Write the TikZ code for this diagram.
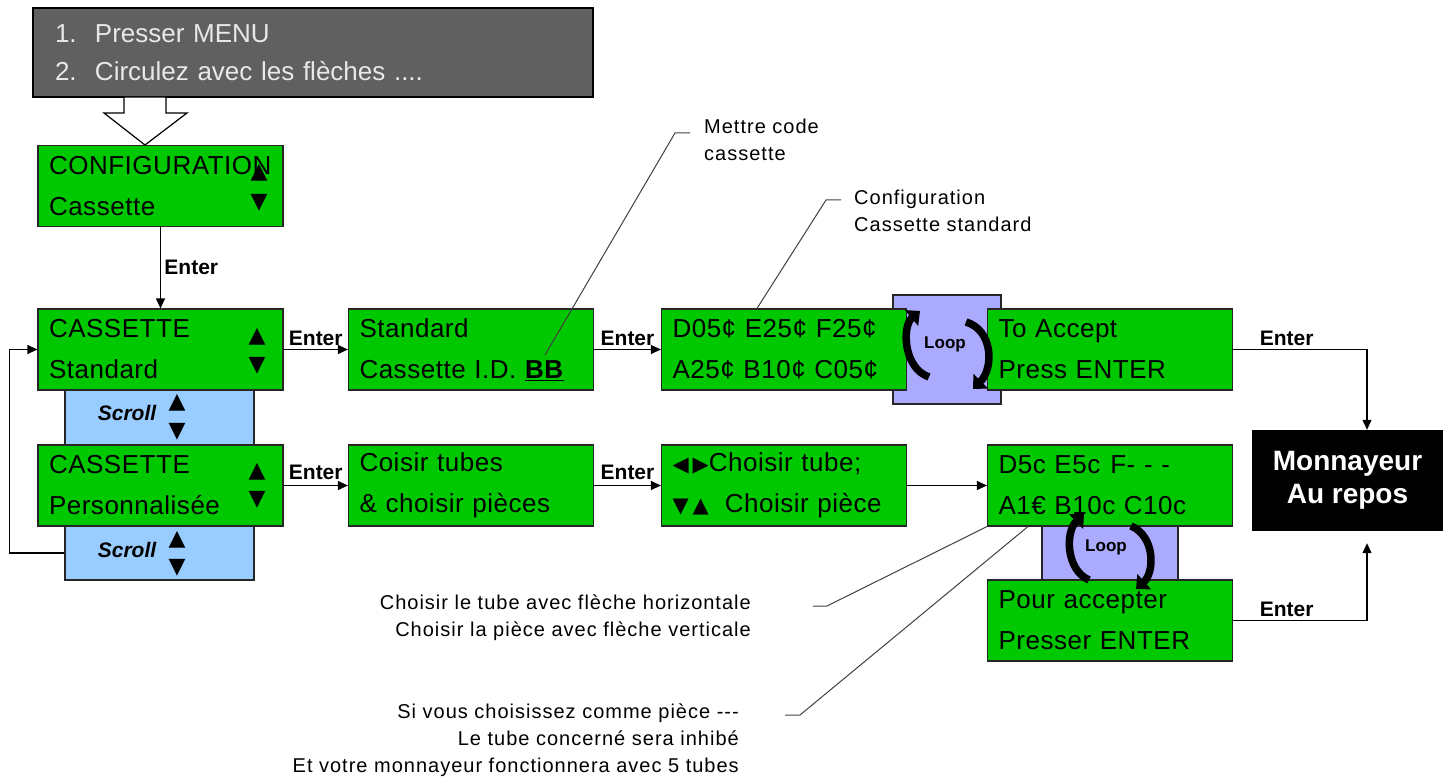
\documentclass[tikz,border=0pt]{standalone}
\usepackage{fontspec}
\setmainfont{Liberation Sans}
\newfontfamily\trifont{DejaVu Sans}
\newfontfamily\lcdfont[LetterSpace=2]{Liberation Sans}
\newfontfamily\notefont[LetterSpace=5]{Liberation Sans}
\usetikzlibrary{arrows.meta}
\definecolor{lcdgreen}{RGB}{0,200,0}
\definecolor{scrollblue}{RGB}{153,204,255}
\definecolor{loopblue}{RGB}{170,170,255}
\definecolor{menugray}{RGB}{96,96,96}
\definecolor{menutext}{RGB}{232,232,232}

\begin{document}
\begin{tikzpicture}[x=1pt,y=-1pt,
    lcd/.style={draw=black!85, line width=1.2pt, fill=lcdgreen, text width=223pt, inner xsep=11pt, inner ysep=0pt, minimum height=81pt, align=left, font=\lcdfont\fontsize{26}{41}\selectfont},
    tri/.style={inner sep=0pt, font=\trifont\fontsize{22}{22}\selectfont},
    scrollbox/.style={draw=black!85, line width=1.2pt, fill=scrollblue, minimum width=189pt},
    loopbox/.style={draw=black!85, line width=1.2pt, fill=loopblue},
    lbl/.style={font=\bfseries\fontsize{21}{21}\selectfont},
    flow/.style={line width=1.2pt, -{Triangle[length=10pt,width=9pt]}},
    callout/.style={line width=1pt, black!75},
    note/.style={inner sep=0pt, font=\notefont\fontsize{20}{27}\selectfont},
    looparrow/.style={line width=7.5pt, -{Triangle[length=11pt,width=20pt]}}]
	\useasboundingbox (0,0) rectangle (1443,778);
	% menu en haut
	\node[draw=black, line width=1.2pt, fill=menugray, text=menutext, minimum width=560pt, minimum height=89pt, text width=516pt, align=left, font=\fontsize{26}{38}\selectfont] (menu) at (313,52.5) {\makebox[40pt][l]{1.}Presser MENU\\\makebox[40pt][l]{2.}Circulez avec les flèches ....};
	\draw[line width=1.2pt, fill=white] (124,97) -- (124,113) -- (104,113) -- (145,145) -- (187,113) -- (166,113) -- (166,97) -- cycle;
	% boites de fond
	\node[scrollbox, minimum height=55pt] (sc1) at (159.5,417.5) {};
	\node[scrollbox, minimum height=54pt] (sc2) at (159.5,553) {};
	\node[loopbox, minimum width=108pt, minimum height=109pt] (loop1) at (947,349.5) {};
	\node[loopbox, minimum width=136pt, minimum height=54pt] (loop2) at (1110,553) {};
	% afficheurs
	\node[lcd] (cfg) at (160.5,186) {CONFIGURATION\\Cassette};
	\node[lcd] (cs) at (160.5,349.5) {CASSETTE\\Standard};
	\node[lcd] (cp) at (160.5,485.5) {CASSETTE\\Personnalisée};
	\node[lcd] (std) at (471,349.5) {Standard\\Cassette I.D. \underline{\textbf{BB}}};
	\node[lcd] (d05) at (784,349.5) {D05¢ E25¢ F25¢\\A25¢ B10¢ C05¢};
	\node[lcd] (acc) at (1110,349.5) {To Accept\\Press ENTER};
	\node[lcd] (tubes) at (471,485.5) {Coisir tubes\\\& choisir pièces};
	\node[lcd] (choix) at (784,485.5) {{\trifont\fontsize{21}{21}\selectfont ◀\hspace{4pt}▶}Choisir tube;\\{\trifont\fontsize{21}{21}\selectfont ▼\hspace{4pt}▲}\hspace{16pt}Choisir pièce};
	\node[lcd] (d5c) at (1110,485.5) {D5c E5c\hspace{10pt}F- - -\\A1€ B10c C10c};
	\node[lcd] (pour) at (1110,620.5) {Pour accepter\\Presser ENTER};
	\node[draw, fill=black, text=white, minimum width=191pt, minimum height=100pt, align=center, font=\bfseries\fontsize{28}{33}\selectfont] (mon) at (1347.5,480) {Monnayeur\\Au repos};
	% fleches haut/bas
	\node[tri] (cfgup) at (259,173) {▲};
	\node[tri] (cfgdn) at (259,203) {▼};
	\node[tri] (csup) at (257,337) {▲};
	\node[tri] (csdn) at (257,366) {▼};
	\node[tri] (cpup) at (257,472) {▲};
	\node[tri] (cpdn) at (257,500) {▼};
	\node[lbl, font=\bfseries\itshape\fontsize{21}{21}\selectfont] (scroll1) at (127,413) {Scroll};
	\node[tri] (sc1up) at (177,403) {▲};
	\node[tri] (sc1dn) at (177,432) {▼};
	\node[lbl, font=\bfseries\itshape\fontsize{21}{21}\selectfont] (scroll2) at (127,550) {Scroll};
	\node[tri] (sc2up) at (177,540) {▲};
	\node[tri] (sc2dn) at (177,568) {▼};
	% boucles
	\draw[looparrow] (929,377) .. controls (903,368) and (902,326) .. (920,311);
	\draw[looparrow] (966,322) .. controls (993,330) and (994,368) .. (973,389);
	\draw[looparrow] (1089,580) .. controls (1066,570) and (1065,532) .. (1084,514);
	\draw[looparrow] (1131,526) .. controls (1155,536) and (1155,572) .. (1136,589);
	\node[lbl, font=\bfseries\fontsize{17}{17}\selectfont] (loopa) at (945,344) {Loop};
	\node[lbl, font=\bfseries\fontsize{17}{17}\selectfont] (loopb) at (1106,547) {Loop};
	% liaisons
	\draw[flow] (cfg) -- node[midway, right, lbl] {Enter} (cs);
	\draw[flow] (cs) -- node[midway, above, lbl] {Enter} (std);
	\draw[flow] (std) -- node[midway, above, lbl] {Enter} (d05);
	\draw[flow] (cp) -- node[midway, above, lbl, yshift=2pt] {Enter} (tubes);
	\draw[flow] (tubes) -- node[midway, above, lbl, yshift=2pt] {Enter} (choix);
	\draw[flow] (choix) -- (d5c);
	\draw[flow] (sc2.west) -- ++(-55,0) |- (cs.west);
	\draw[flow] (acc.east) -| node[pos=0.2, above, lbl] {Enter} ([xshift=19.5pt]mon.north);
	\draw[flow, shorten >=13pt] (pour.east) -| node[pos=0.2, above, lbl] {Enter} ([xshift=19.5pt]mon.south);
	% commentaires
	\node[note, anchor=west, align=left] (mettre) at (704,140) {Mettre code\\cassette};
	\node[note, anchor=west, align=left] (confstd) at (854,211) {Configuration\\Cassette standard};
	\node[note, anchor=east, align=right] (fleche) at (751,618) {Choisir le tube avec flèche horizontale\\Choisir la pièce avec flèche verticale};
	\node[note, anchor=east, align=right] (inhibe) at (739,740) {Si vous choisissez comme pièce -{}-{}-\\Le tube concerné sera inhibé\\Et votre monnayeur fonctionnera avec 5 tubes};
	\coordinate (bbpt) at (545,355);
	\draw[callout] (bbpt) -- (675,133) -- +(15,0);
	\draw[callout] ([xshift=-27pt]d05.north) -- (826,200) -- +(15,0);
	\draw[callout] (d5c.south west) -- (827,606) -- +(-14,0);
	\draw[callout] ([xshift=41pt]d5c.south west) -- (800,715) -- +(-15,0);
\end{tikzpicture}
\end{document}
